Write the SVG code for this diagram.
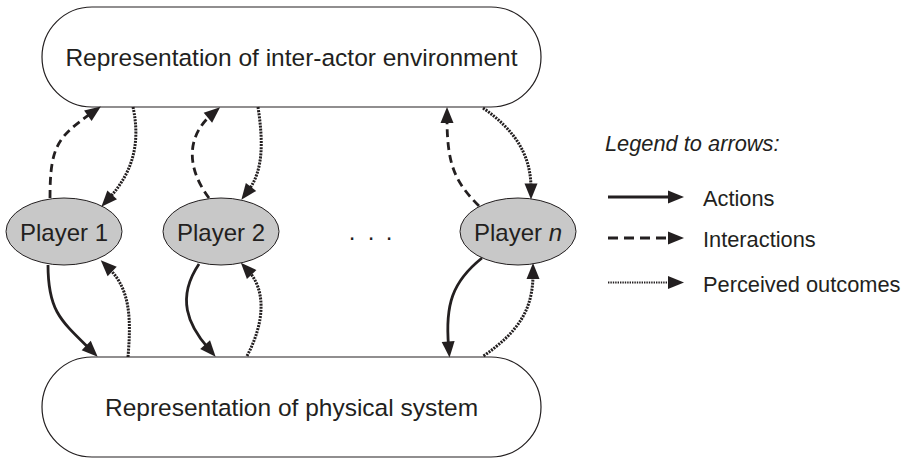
<svg xmlns="http://www.w3.org/2000/svg" width="910" height="458" viewBox="0 0 910 458">
<style>
.box{fill:#ffffff;stroke:#231f20;stroke-width:1.2}
.pl{fill:#c8c8c8;stroke:#231f20;stroke-width:1}
.t{font-family:"Liberation Sans",Arial,sans-serif;fill:#231f20}
.bt{font-size:24.5px;text-anchor:middle}
.pt{font-size:24px;text-anchor:middle}
.lt{font-size:21.8px}
.act{fill:none;stroke:#231f20;stroke-width:2.8;marker-end:url(#ah)}
.int{fill:none;stroke:#231f20;stroke-width:2.8;stroke-dasharray:8 5;marker-end:url(#ah)}
.per{fill:none;stroke:#231f20;stroke-width:3;stroke-dasharray:2 1.1;marker-end:url(#ah)}
</style>
<defs>
<marker id="ah" markerUnits="userSpaceOnUse" markerWidth="16" markerHeight="13" refX="5" refY="6.5" orient="auto" overflow="visible">
<path d="M0,0 L16,6.5 L0,13 z" fill="#231f20"/>
</marker>
</defs>
<rect width="910" height="458" fill="#ffffff"/>
<g id="env">
<rect class="box" x="42" y="7" width="499" height="100" rx="50" ry="50"/>
<text class="t bt" x="291.5" y="66">Representation of inter-actor environment</text>
</g>
<g id="phys">
<rect class="box" x="42" y="357" width="499" height="100" rx="50" ry="50"/>
<text class="t bt" x="291.5" y="416">Representation of physical system</text>
</g>
<g id="player1">
<ellipse class="pl" cx="64" cy="231.5" rx="58" ry="33.5"/>
<text class="t pt" x="64" y="241">Player 1</text>
</g>
<g id="player2">
<ellipse class="pl" cx="221" cy="231.5" rx="58" ry="33.5"/>
<text class="t pt" x="221" y="241">Player 2</text>
</g>
<g id="playern">
<ellipse class="pl" cx="518" cy="231.5" rx="58" ry="33.5"/>
<text class="t pt" x="518" y="241">Player <tspan font-style="italic">n</tspan></text>
</g>
<g id="ellipsis">
<text class="t" font-size="24" x="348.7 367.7 385.7" y="239.5">...</text>
</g>
<g id="connectors">
<path class="int" d="M50,198 C50,145 58,137 91.9,112.8"/>
<path class="per" d="M133,107 C140,140 135,170 108.8,198.6"/>
<path class="int" d="M209,198 C183,163 190,133 211.7,114.5"/>
<path class="per" d="M258,107 C263,140 264,170 248,191"/>
<path class="int" d="M479,206 C455,182 447,165 447,118"/>
<path class="per" d="M483,108 C515,130 531,155 531,188.5"/>
<path class="act" d="M48,265 C48,310 60,320 89.8,349"/>
<path class="per" d="M128,357 C131,320 131,290 108.6,268"/>
<path class="act" d="M199,264 C176,298 188,325 208.4,348.4"/>
<path class="per" d="M247,356 C265,322 266,290 248.3,270.8"/>
<path class="act" d="M482,258 C452,282 445,305 448.6,346.5"/>
<path class="per" d="M483.5,356 C518,332 533,310 533,274"/>
</g>
<g id="legend">
<text class="t lt" font-style="italic" x="605" y="151">Legend to arrows:</text>
<path class="act" d="M608,197 L673,197"/>
<text class="t lt" x="703" y="206">Actions</text>
<path fill="none" stroke="#231f20" stroke-width="2.8" stroke-dasharray="10 6" marker-end="url(#ah)" d="M608,238 L673,238"/>
<text class="t lt" x="703" y="247">Interactions</text>
<path fill="none" stroke="#231f20" stroke-width="2.2" stroke-dasharray="1.4 1" marker-end="url(#ah)" d="M608,282.5 L673,282.5"/>
<text class="t lt" x="703" y="292">Perceived outcomes</text>
</g>
</svg>
